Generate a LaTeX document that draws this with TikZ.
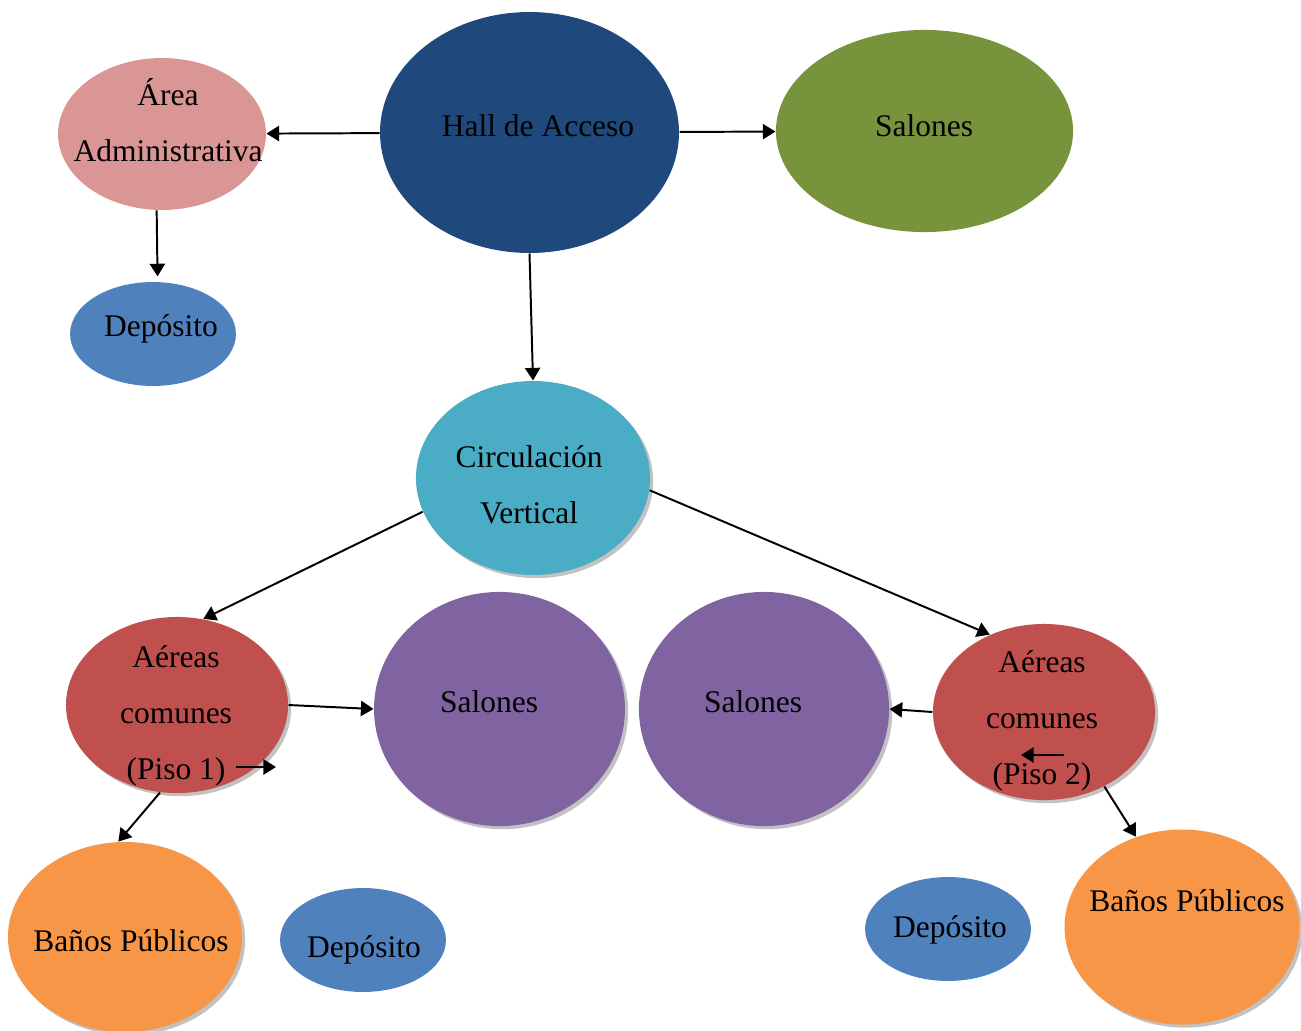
\documentclass[tikz,border=0pt]{standalone}
\usepackage{fontspec}
\setmainfont{Liberation Serif}
\usepackage{xcolor}
\usetikzlibrary{arrows, arrows.meta, shapes.geometric, shadows}

\definecolor{hallblue}{HTML}{1F497D}
\definecolor{salgreen}{HTML}{77933C}
\definecolor{adminpink}{HTML}{D99694}
\definecolor{depblue}{HTML}{4F81BD}
\definecolor{circcyan}{HTML}{4BACC6}
\definecolor{comred}{HTML}{C0504D}
\definecolor{salpurple}{HTML}{8064A2}
\definecolor{banorange}{HTML}{F79646}

\tikzset{
  zone/.style={ellipse, draw=none, inner sep=0pt},
  shad/.style={drop shadow={shadow xshift=1.2pt, shadow yshift=-1.2pt, fill=black!40, opacity=0.6}},
  txt/.style={align=center, font=\fontsize{12}{21.3}\selectfont},
  link/.style={line width=0.75pt, -{Triangle[length=4.8pt,width=5.8pt]}}
}

\begin{document}
\begin{tikzpicture}[x=0.381pt, y=-0.381pt]
\useasboundingbox (0,0) rectangle (1301,1030);

% zonas
\node[zone, fill=hallblue, minimum width=113.9pt, minimum height=91.8pt] (hall) at (529.5,132.5) {};
\node[zone, fill=salgreen, minimum width=113.2pt, minimum height=77pt] (salv) at (924.5,131) {};
\node[zone, fill=adminpink, minimum width=79.2pt, minimum height=57.9pt] (admin) at (162,134) {};
\node[zone, fill=depblue, minimum width=63.2pt, minimum height=39.6pt] (dep1) at (153,334) {};
\node[zone, shad, fill=circcyan, minimum width=89.2pt, minimum height=73.9pt] (circ) at (533,478) {};
\node[zone, shad, fill=comred, minimum width=84.6pt, minimum height=67.1pt] (com1) at (177,705) {};
\node[zone, shad, fill=salpurple, minimum width=95.6pt, minimum height=89.2pt] (sal1) at (499.5,709) {};
\node[zone, shad, fill=salpurple, minimum width=95.3pt, minimum height=89.2pt] (sal2) at (764,709) {};
\node[zone, shad, fill=comred, minimum width=84.6pt, minimum height=67.1pt] (com2) at (1044,712) {};
\node[zone, shad, fill=banorange, minimum width=89.2pt, minimum height=72.4pt] (ban1) at (125,937) {};
\node[zone, fill=depblue, minimum width=63.2pt, minimum height=39.6pt] (dep2) at (363,940) {};
\node[zone, fill=depblue, minimum width=63.2pt, minimum height=39.6pt] (dep3) at (948,929) {};
\node[zone, shad, fill=banorange, minimum width=89.5pt, minimum height=74.3pt] (ban2) at (1182,927) {};

% textos
\node[txt] (hall-t) at (538,126) {Hall de Acceso};
\node[txt] (salv-t) at (924,126) {Salones};
\node[txt] (admin-t) at (168,120) {Área\\Administrativa};
\node[txt] (dep1-t) at (161,329) {Depósito};
\node[txt] (circ-t) at (529,485) {Circulación\\Vertical};
\node[txt] (com1-t) at (176,716) {Aéreas\\comunes\\(Piso 1)};
\node[txt] (sal1-t) at (489,702) {Salones};
\node[txt] (sal2-t) at (753,702) {Salones};
\node[txt] (com2-t) at (1042,721) {Aéreas\\comunes\\(Piso 2)};
\node[txt] (ban1-t) at (131,941) {Baños Públicos};
\node[txt] (dep2-t) at (364,950) {Depósito};
\node[txt] (dep3-t) at (950,930) {Depósito};
\node[txt] (ban2-t) at (1187,901) {Baños Públicos};

\coordinate (s1a) at (236,767);
\coordinate (s1b) at (276,767);
\coordinate (s2a) at (1064,755);
\coordinate (s2b) at (1021,755);

% flechas
\draw[link] (hall) -- (admin);
\draw[link] (hall) -- (salv);
\draw[link] (hall.south) -- (circ.north);
\draw[link, shorten >=2pt] (admin.266) -- (dep1.85);
\draw[link] (circ.197) -- (com1.73);
\draw[link] (circ.354) -- (com2.125);
\draw[link] (com1.east) -- (sal1.west);
\draw[link] (com1.259) -- (ban1.94);
\draw[link] (com2.west) -- (sal2.east);
\draw[link] (com2.309) -- (ban2.117);
\draw[link] (s1a) -- (s1b);
\draw[link] (s2a) -- (s2b);
\end{tikzpicture}
\end{document}
